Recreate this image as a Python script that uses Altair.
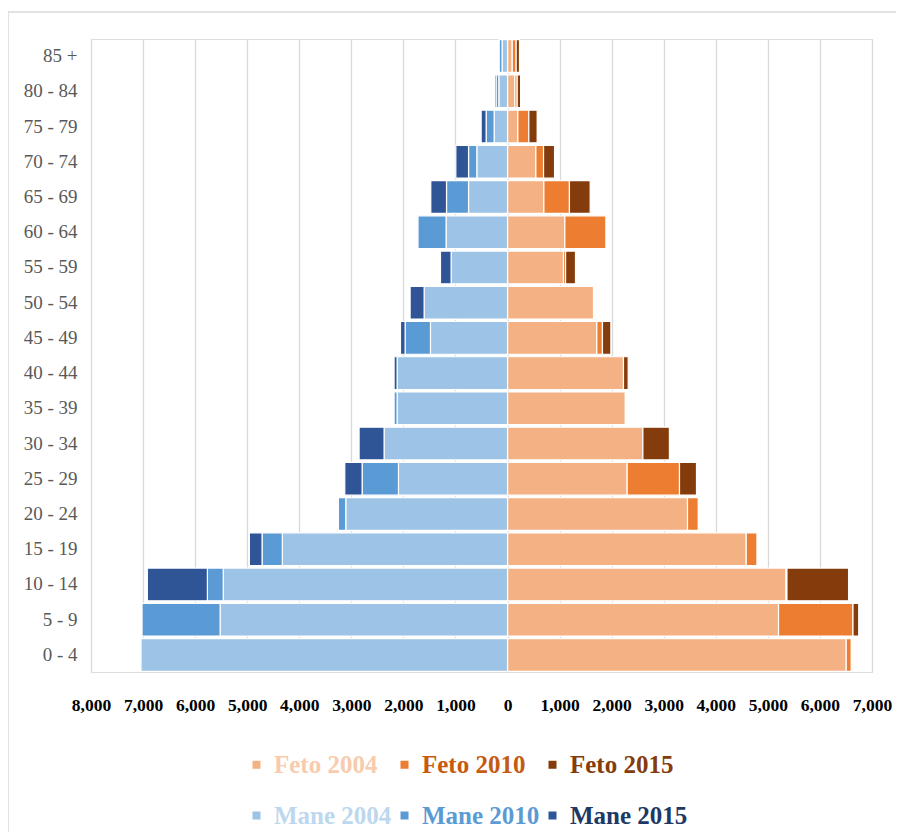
import altair as alt
import pandas as pd

# Age groups (bottom to top)
ages = ["0 - 4", "5 - 9", "10 - 14", "15 - 19", "20 - 24", "25 - 29", "30 - 34",
        "35 - 39", "40 - 44", "45 - 49", "50 - 54", "55 - 59", "60 - 64",
        "65 - 69", "70 - 74", "75 - 79", "80 - 84", "85 +"]

# Stacked segment sizes (persons): 2004 base, then extra shown for 2010 and 2015
mane_2004 = [7040, 5520, 5460, 4325, 3107, 2095, 2371, 2121, 2121, 1480, 1602, 1084, 1180, 749, 590, 257, 167, 105]
mane_2010 = [0, 1500, 305, 390, 141, 698, 0, 58, 0, 487, 0, 0, 540, 423, 159, 154, 55, 55]
mane_2015 = [0, 0, 1153, 243, 0, 333, 480, 0, 58, 89, 269, 204, 0, 302, 244, 96, 30, 0]

feto_2004 = [6505, 5205, 5347, 4584, 3457, 2298, 2599, 2259, 2227, 1715, 1651, 1075, 1101, 698, 544, 198, 141, 90]
feto_2010 = [95, 1430, 20, 206, 205, 1005, 0, 0, 0, 108, 0, 40, 788, 491, 148, 211, 45, 75]
feto_2015 = [0, 110, 1183, 0, 0, 326, 510, 0, 90, 162, 0, 190, 0, 398, 211, 160, 65, 65]

series_names = ["Feto 2004", "Feto 2010", "Feto 2015", "Mane 2004", "Mane 2010", "Mane 2015"]
series_colors = ["#F4B183", "#ED7D31", "#843C0C", "#9DC3E6", "#5B9BD5", "#2F5597"]
label_colors = ["#F8CBAD", "#C55A11", "#843C0C", "#BDD7EE", "#5B9BD5", "#203864"]

tick_values = list(range(-8000, 7001, 1000))

series_data = [
    ("Feto 2004", feto_2004, 1, 0),
    ("Feto 2010", feto_2010, 1, 1),
    ("Feto 2015", feto_2015, 1, 2),
    ("Mane 2004", mane_2004, -1, 0),
    ("Mane 2010", mane_2010, -1, 1),
    ("Mane 2015", mane_2015, -1, 2),
]

rows = []
for name, vals, sign, k in series_data:
    for a, v in zip(ages, vals):
        if v > 0:
            rows.append({"age": a, "series": name, "value": sign * v, "k": k})
df = pd.DataFrame(rows)

color_expr = ""
for n, c in zip(series_names, label_colors):
    color_expr += f"datum.label == '{n}' ? '{c}' : "
color_expr += "'#000000'"

FONT = "Liberation Serif"

frame = alt.Chart(pd.DataFrame({"a": [0]})).mark_rect(
    fill="transparent", stroke="#D9D9D9", strokeWidth=1.5
).encode(
    x=alt.value(-83), x2=alt.value(840), y=alt.value(-27), y2=alt.value(840)
)

bars = alt.Chart(df).mark_bar(stroke="white", strokeWidth=1.2).encode(
    x=alt.X(
        "value:Q",
        stack="zero",
        title=None,
        scale=alt.Scale(domain=[-8000, 7000], nice=False, zero=False),
        axis=alt.Axis(
            values=tick_values,
            labelExpr="format(abs(datum.value), ',')",
            labelFont=FONT, labelFontSize=17.5, labelFontWeight="bold",
            labelColor="#000000", labelPadding=24, labelFlush=False,
            labelOverlap=False,
            ticks=False, domain=False,
            grid=True, gridColor="#D9D9D9", gridWidth=1.3,
        ),
    ),
    y=alt.Y(
        "age:N",
        sort=list(reversed(ages)),
        title=None,
        scale=alt.Scale(paddingInner=0.07, paddingOuter=0.02),
        axis=alt.Axis(
            labelFont=FONT, labelFontSize=19, labelColor="#595959",
            labelPadding=14, ticks=False, domain=False, grid=False,
        ),
    ),
    color=alt.Color(
        "series:N",
        scale=alt.Scale(domain=series_names, range=series_colors),
        legend=alt.Legend(
            title=None, orient="none", legendX=153, legendY=713,
            direction="horizontal",
            columns=3, symbolType="square", symbolSize=64, symbolStrokeWidth=0,
            labelFont=FONT, labelFontSize=25, labelFontWeight="bold",
            labelColor={"expr": color_expr},
            labelOffset=5, columnPadding=0, rowPadding=25, labelLimit=0,
        ),
    ),
    order=alt.Order("k:Q"),
)

chart = alt.layer(frame, bars).properties(
    width=781, height=633,
    autosize=alt.AutoSizeParams(type="none"),
    padding={"left": 83, "top": 31, "right": 24, "bottom": 160},
).configure_view(
    stroke="#D9D9D9", strokeWidth=1.5
).configure(background="white")

chart.save("out.html", embed_options={"renderer": "svg", "actions": False})
